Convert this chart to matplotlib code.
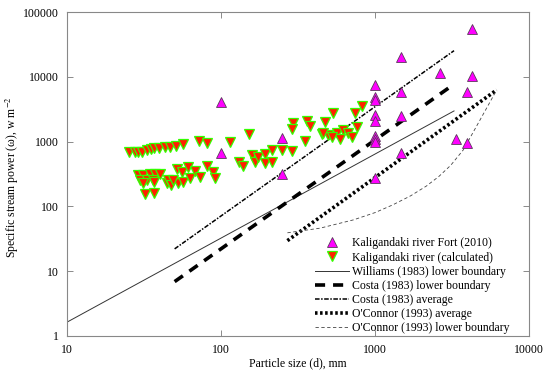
import matplotlib
matplotlib.use('Agg')
import matplotlib.pyplot as plt
from matplotlib.ticker import FixedLocator, FuncFormatter, NullLocator

plt.rcParams['font.family'] = ['Liberation Serif', 'DejaVu Serif']
plt.rcParams['mathtext.fontset'] = 'stix'

# Kaligandaki river Fort (2010)
fort_d = [100, 100, 248, 248, 1000, 1000, 1000, 1000, 1000, 1000, 1000, 1000, 1000,
          1476, 1476, 1476, 1476, 2640, 4290, 4290, 3940, 3360, 3940]
fort_w = [4150, 660, 1130, 316, 7520, 4970, 4400, 2590, 2110, 1225, 1090, 1000, 272,
          20600, 5800, 2520, 661, 11700, 54600, 10350, 5930, 1090, 966]

# Kaligandaki river (calculated)
calc_d = [25.4, 27.5, 29, 30.5, 32.9, 35, 37, 39.5, 43, 46.6, 50.8, 56.4, 72.3, 81.5,
          114, 153,
          29, 31.3, 34.5, 37.3, 40.2, 29.8, 32.9, 36.3, 31.3, 36.7, 32.1, 36.7,
          44.4, 45.4, 47.7, 52.6, 56.9, 62.8, 51.5, 55.5, 61.2, 67.8, 73.2, 80.8, 89, 91.4, 49,
          130, 140, 158, 166, 175, 193, 193, 213, 213, 248, 288,
          295, 288, 360, 378, 473, 536, 741, 819, 761, 451, 498, 564, 622, 670, 705, 593,
          523, 351, 462]
calc_w = [700, 690, 680, 700, 745, 760, 790, 808, 820, 840, 860, 920, 1036, 944,
          1000, 1315,
          305, 305, 318, 313, 318, 256, 256, 260, 232, 237, 154, 160,
          228, 256, 214, 228, 241, 272, 374, 344, 402, 357, 288, 421, 344, 272, 256,
          491, 421, 622, 491, 586, 646, 463, 745, 491, 745, 726,
          1925, 1555, 2110, 1750, 2040, 2805, 2750, 3565, 1705, 1315, 1270, 1350, 1518, 1350,
          1195, 1090, 1195, 1025, 1350]

# boundary lines (end points / read-off points)
williams_d = [10, 3260]
williams_w = [1.62, 2985]
costa_low_d = [50, 3200]
costa_low_w = [6.86, 7500]
costa_avg_d = [50, 3260]
costa_avg_w = [22, 25500]
oconnor_avg_d = [270, 6170]
oconnor_avg_w = [29.5, 6300]
oconnor_low_d = [270, 440, 723, 1000, 1300, 1700, 2150, 2600, 3100, 3743, 4810, 6170]
oconnor_low_w = [39, 46, 61.7, 80, 105, 145, 205, 290, 430, 745, 2167, 6300]

x_ticks = [10, 100, 1000, 10000]
y_ticks = [1, 10, 100, 1000, 10000, 100000]

fig = plt.figure(figsize=(5.5, 3.77), dpi=100)
ax = fig.add_axes([0.1218, 0.1095, 0.84, 0.8579])

ax.plot(fort_d, fort_w, linestyle='none', marker='^', markersize=7.5,
        markerfacecolor='#ff00ff', markeredgecolor='#5a3a5a', markeredgewidth=0.6,
        label='Kaligandaki river Fort (2010)', zorder=3)
ax.plot(calc_d, calc_w, linestyle='none', marker='v', markersize=7.5,
        markerfacecolor='#ff2000', markeredgecolor='#33ff00', markeredgewidth=0.9,
        label='Kaligandaki river (calculated)', zorder=3)

ax.plot(williams_d, williams_w, color='#333333', lw=0.7,
        label='Williams (1983) lower boundary')
ax.plot(costa_low_d, costa_low_w, color='black', lw=2.6, dashes=(2.8, 2.2),
        label='Costa (1983) lower boundary')
ax.plot(costa_avg_d, costa_avg_w, color='black', lw=1.1, dashes=(3, 1, 1, 1),
        label='Costa (1983) average')
ax.plot(oconnor_avg_d, oconnor_avg_w, color='black', lw=2.6, dashes=(0.7, 0.7),
        label="O'Connor (1993) average")
ax.plot(oconnor_low_d, oconnor_low_w, color='#444444', lw=0.6, dashes=(4, 3),
        label="O'Connor (1993) lower boundary")

ax.set_xscale('log')
ax.set_yscale('log')
ax.set_xlim(10, 10000)
ax.set_ylim(1, 100000)
ax.xaxis.set_major_locator(FixedLocator(x_ticks))
ax.yaxis.set_major_locator(FixedLocator(y_ticks))
ax.xaxis.set_minor_locator(NullLocator())
ax.yaxis.set_minor_locator(NullLocator())
fmt = FuncFormatter(lambda v, p: f'{int(round(v))}')
ax.xaxis.set_major_formatter(fmt)
ax.yaxis.set_major_formatter(fmt)
ax.tick_params(direction='in', top=True, right=True, length=4, width=0.6,
               color='#777777', labelsize=8.5, pad=6)
for s in ax.spines.values():
    s.set_color('#888888')
    s.set_linewidth(0.8)

ax.set_xlabel('Particle size (d), mm', fontsize=8.5)
ax.set_ylabel('Specific stream power (ω), w m$^{-2}$', fontsize=8.5)
ax.xaxis.set_label_coords(0.5, -0.066)
ax.yaxis.set_label_coords(-0.10, 0.49)

ax.legend(loc='lower left', frameon=False, fontsize=8.5, handlelength=2.9,
          handletextpad=0.25, labelspacing=0.18, borderaxespad=0.0,
          bbox_to_anchor=(0.5266, -0.01))

fig.savefig('out.png', dpi=100)
